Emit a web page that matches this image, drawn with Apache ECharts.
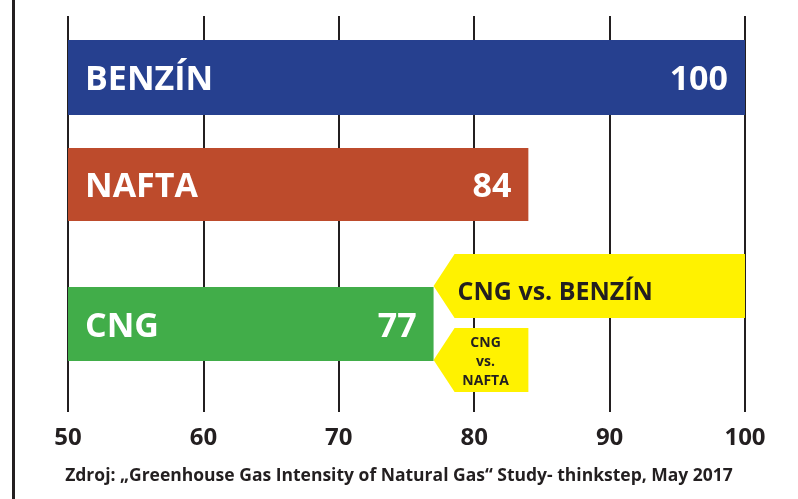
<!DOCTYPE html>
<html>
<head>
<meta charset="utf-8">
<script src="https://cdn.jsdelivr.net/npm/echarts@6/dist/echarts.min.js"></script>
<style>
  html, body { margin: 0; padding: 0; background: #fff; }
  #chart { width: 798px; height: 499px; }
</style>
</head>
<body>
<div id="chart"></div>
<script>
// data
var categories = ['BENZÍN', 'NAFTA', 'CNG'];
var values = [100, 84, 77];
var barColors = ['#26408F', '#BD4B2C', '#41AD49'];
// comparison arrows: CNG vs. each fuel
var compLabels = ['CNG vs. BENZÍN', 'CNG\nvs.\nNAFTA'];
var compFrom = [77, 77];
var compTo = [100, 84];
var axisMin = 50, axisMax = 100, axisStep = 10;
var source = 'Zdroj: \u201EGreenhouse Gas Intensity of Natural Gas\u201C Study- thinkstep, May 2017';

// layout (pixel bands inside plot area, y axis runs 0..396 top-down)
var barBands = [[24, 99], [132, 205], [271, 345]];
var arrowBands = [[238, 302], [312, 376]];
var FONT = '"Open Sans", "Noto Sans", sans-serif';
var DARK = '#231F20';

var myChart = echarts.init(document.getElementById('chart'));

var option = {
    animation: false,
    grid: { left: 68, right: 53, top: 16, bottom: 87 },
    xAxis: {
        type: 'value',
        min: axisMin,
        max: axisMax,
        interval: axisStep,
        axisLine: { show: false },
        axisTick: { show: false },
        axisLabel: {
            margin: 14,
            color: DARK,
            fontFamily: FONT,
            fontWeight: 'bold',
            fontSize: 24
        },
        splitLine: { show: true, lineStyle: { color: DARK, width: 2 } }
    },
    yAxis: {
        type: 'value',
        min: 0,
        max: 396,
        inverse: true,
        show: false,
        splitLine: { show: false }
    },
    graphic: [
        { type: 'rect', left: 12, top: 0, shape: { width: 3, height: 499 }, style: { fill: DARK } },
        {
            type: 'text', left: 'center', top: 467,
            style: { text: source, fill: DARK, font: 'bold 17.5px ' + FONT }
        }
    ],
    series: [
        {
            type: 'custom',
            clip: false,
            data: values.map(function (v, i) { return [v, i]; }),
            encode: { x: 0 },
            renderItem: function (params, api) {
                var i = api.value(1);
                var band = barBands[i];
                var p0 = api.coord([axisMin, band[0]]);
                var p1 = api.coord([api.value(0), band[1]]);
                var mid = (p0[1] + p1[1]) / 2 + 3;
                return {
                    type: 'group',
                    children: [
                        { type: 'rect', shape: { x: p0[0], y: p0[1], width: p1[0] - p0[0], height: p1[1] - p0[1] }, style: { fill: barColors[i] } },
                        { type: 'text', style: { text: categories[i], x: p0[0] + 17, y: mid, align: 'left', verticalAlign: 'middle', fill: '#fff', font: 'bold 34px ' + FONT } },
                        { type: 'text', style: { text: String(api.value(0)), x: p1[0] - 17, y: mid, align: 'right', verticalAlign: 'middle', fill: '#fff', font: 'bold 34px ' + FONT } }
                    ]
                };
            }
        },
        {
            type: 'custom',
            clip: false,
            data: compFrom.map(function (v, i) { return [v, compTo[i], i]; }),
            encode: { x: [0, 1] },
            renderItem: function (params, api) {
                var i = api.value(2);
                var band = arrowBands[i];
                var a = api.coord([api.value(0), band[0]]);
                var b = api.coord([api.value(1), band[1]]);
                var mid = (a[1] + b[1]) / 2;
                var notch = 21;
                var txt;
                if (i === 0) {
                    txt = { type: 'text', style: { text: compLabels[i], x: a[0] + 24, y: mid + 7, align: 'left', verticalAlign: 'middle', fill: DARK, font: 'bold 25px ' + FONT } };
                } else {
                    txt = { type: 'text', style: { text: compLabels[i], x: a[0] + 52, y: mid + 2, align: 'center', verticalAlign: 'middle', fill: DARK, font: 'bold 14px ' + FONT, lineHeight: 19 } };
                }
                return {
                    type: 'group',
                    children: [
                        {
                            type: 'polygon',
                            shape: { points: [[a[0], mid], [a[0] + notch, a[1]], [b[0], a[1]], [b[0], b[1]], [a[0] + notch, b[1]]] },
                            style: { fill: '#FFF200' }
                        },
                        txt
                    ]
                };
            }
        }
    ]
};

// 绘制图表
myChart.setOption(option);
</script>
</body>
</html>
